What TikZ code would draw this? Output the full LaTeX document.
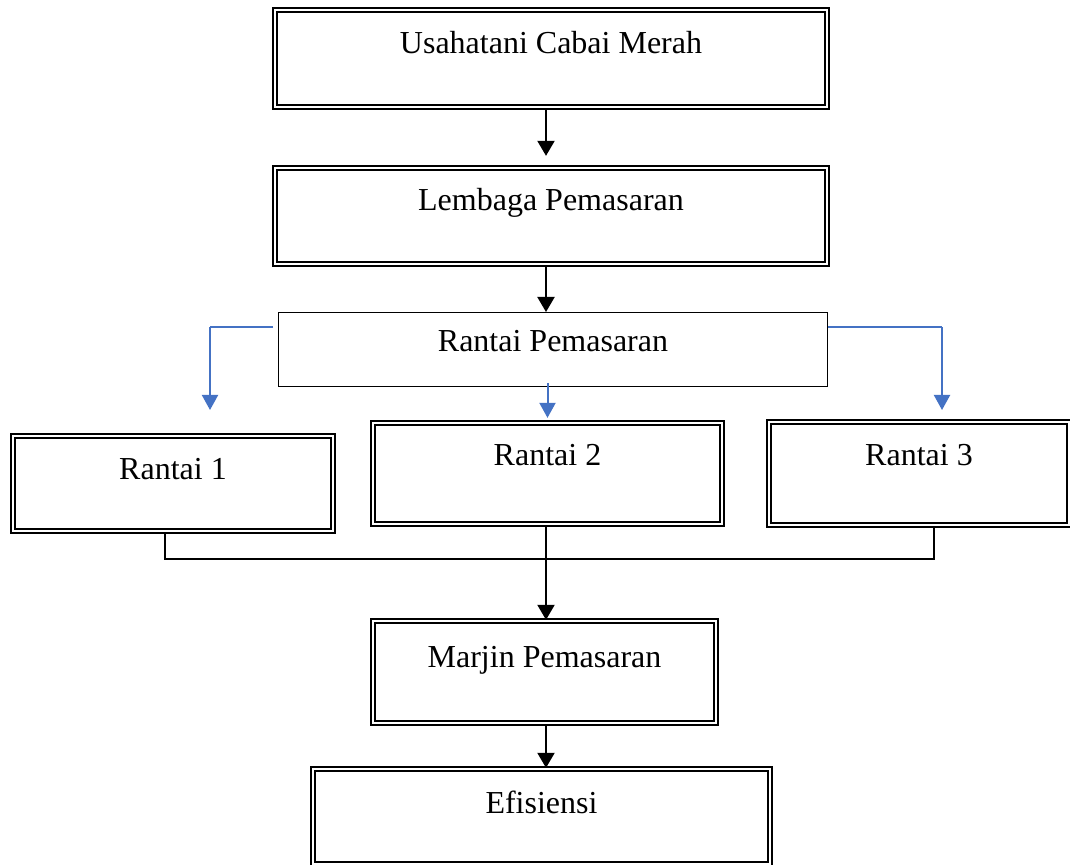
\documentclass[tikz,border=0pt]{standalone}
\usepackage{fontspec}
\setmainfont{Liberation Serif}
\usetikzlibrary{arrows.meta}
\definecolor{accblue}{HTML}{4472C4}

\begin{document}
\begin{tikzpicture}[x=0.5pt,y=-0.5pt,
        box/.style={draw,double,line width=1.15pt,double distance=0.8pt,inner sep=0pt,
            font=\fontsize{16}{19}\selectfont,text height=12pt},
        plainbox/.style={draw,line width=0.5pt,inner sep=0pt,
            font=\fontsize{16}{19}\selectfont,text height=12pt},
        arr/.style={line width=1pt,-{Triangle[width=8.5pt,length=7.5pt]}},
        bus/.style={line width=0.7pt},
        blu/.style={accblue,line width=0.6pt},
        bluarr/.style={accblue,line width=1pt,-{Triangle[width=8pt,length=7.5pt]}}]
        \useasboundingbox (0,0) rectangle (1070,865);
        % boxes
        \node[box,minimum width=276pt,minimum height=48.5pt,text depth=16.5pt] (usaha) at (551,58.5) {Usahatani Cabai Merah};
        \node[box,minimum width=276pt,minimum height=48pt,text depth=17pt] (lembaga) at (551,216) {Lembaga Pemasaran};
        \node[plainbox,minimum width=274.5pt,minimum height=37pt,text depth=9.5pt] (rp) at (553,349.5) {Rantai Pemasaran};
        \node[box,minimum width=160pt,minimum height=47.5pt,text depth=15.5pt] (r1) at (173,483.5) {Rantai 1};
        \node[box,minimum width=174.5pt,minimum height=50.5pt,text depth=19.5pt] (r2) at (547.5,473.5) {Rantai 2};
        \node[box,minimum width=150pt,minimum height=51.5pt,text depth=19.5pt] (r3) at (919,473.5) {Rantai 3};
        \node[box,minimum width=171.5pt,minimum height=51pt,text depth=17pt] (marjin) at (544.5,672) {Marjin Pemasaran};
        \node[box,minimum width=228.5pt,minimum height=47.5pt,text depth=15.5pt] (efis) at (541.5,816.5) {Efisiensi};
        % points
        \coordinate (sp) at (546,0);
        \coordinate (r1in) at (210,410);
        \coordinate (r3in) at (942,410);
        \coordinate (busl) at (165,559);
        \coordinate (busr) at (934,559);
        \coordinate (rpl) at ([shift={(-5,-22.5)}]rp.west);
        \coordinate (rpr) at ([yshift=11.25pt]rp.east);
        % connectors
        \draw[arr] (usaha.south -| sp) -- ([yshift=5.5pt]lembaga.north -| sp);
        \draw[arr] (lembaga.south -| sp) -- (rp.north -| sp);
        \draw[blu] (rpl) -- (rpl -| r1in);
        \draw[bluarr] (rpl -| r1in) -- (r1in);
        \draw[blu] (rpr) -- (rpr -| r3in);
        \draw[bluarr] (rpr -| r3in) -- (r3in);
        \draw[bluarr] ([yshift=2pt]rp.south -| r2.north) -- ([yshift=2pt]r2.north);
        \draw[bus] (r1.south -| busl) -- (busl) -- (busr) -- (r3.south -| busr);
        \draw[arr] (r2.south -| sp) -- (marjin.north -| sp);
        \draw[arr] (marjin.south -| sp) -- (efis.north -| sp);
    \end{tikzpicture}
\end{document}
